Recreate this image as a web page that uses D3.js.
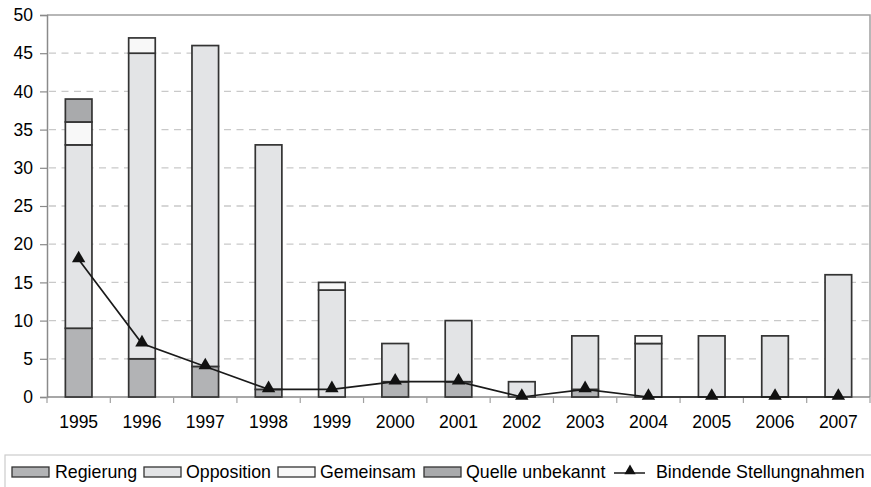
<!DOCTYPE html>
<html>
<head>
<meta charset="utf-8">
<script src="https://cdn.jsdelivr.net/npm/d3@7/dist/d3.min.js"></script>
<style>
  html, body { margin: 0; padding: 0; background: #fff; }
  svg { display: block; font-family: "Liberation Sans", Arial, sans-serif; }
</style>
</head>
<body>
<svg id="chart" width="871" height="487"></svg>
<script>
// Jahre (Kategorien)
const years = ["1995","1996","1997","1998","1999","2000","2001","2002","2003","2004","2005","2006","2007"];
// Gestapelte Reihen
const regierung       = [9, 5, 4, 1, 0, 2, 2, 0, 1, 0, 0, 0, 0];
const opposition      = [24, 40, 42, 32, 14, 5, 8, 2, 7, 7, 8, 8, 16];
const gemeinsam       = [3, 2, 0, 0, 1, 0, 0, 0, 0, 1, 0, 0, 0];
const quelleUnbekannt = [3, 0, 0, 0, 0, 0, 0, 0, 0, 0, 0, 0, 0];
// Linienreihe
const bindend         = [18, 7, 4, 1, 1, 2, 2, 0, 1, 0, 0, 0, 0];
const yTicks = [0, 5, 10, 15, 20, 25, 30, 35, 40, 45, 50];

const seriesNames = ["Regierung", "Opposition", "Gemeinsam", "Quelle unbekannt"];
const seriesData = [regierung, opposition, gemeinsam, quelleUnbekannt];
const colors = ["#b2b3b5", "#e3e4e6", "#f8f8f8", "#a9aaac"];

const svg = d3.select("#chart");
const m = { left: 47, right: 870, top: 15, bottom: 397 };

const x = d3.scaleBand().domain(years).range([m.left, m.right]).paddingInner(0.58).paddingOuter(0.29);
const y = d3.scaleLinear().domain([0, 50]).range([m.bottom, m.top]);

// Gitternetz
svg.append("g").selectAll("line").data(yTicks.filter(t => t > 0 && t < 50)).join("line")
  .attr("x1", m.left + 2).attr("x2", m.right)
  .attr("y1", d => y(d)).attr("y2", d => y(d))
  .attr("stroke", "#c9c9c9").attr("stroke-width", 1.3).attr("stroke-dasharray", "7,5.5");

// Rahmen oben und rechts
svg.append("path")
  .attr("d", `M${m.left},${m.top}H${m.right}V${m.bottom}`)
  .attr("fill", "none").attr("stroke", "#a0a0a0").attr("stroke-width", 1.5);

// Y-Achse
const yAxis = svg.append("g").attr("transform", `translate(${m.left},0)`)
  .call(d3.axisLeft(y).tickValues(yTicks).tickSize(7).tickPadding(7));
yAxis.select(".domain").attr("stroke", "#8a8a8a").attr("stroke-width", 1.5);
yAxis.selectAll(".tick line").attr("stroke", "#8a8a8a").attr("stroke-width", 1.2);
yAxis.selectAll("text").attr("font-size", 17.5).attr("fill", "#000")
  .attr("font-family", "Liberation Sans, Arial, sans-serif");

// X-Achse mit Teilstrichen an den Kategoriegrenzen
const step = x.step();
const xg = svg.append("g");
xg.append("line").attr("x1", m.left).attr("x2", m.right).attr("y1", m.bottom).attr("y2", m.bottom)
  .attr("stroke", "#8a8a8a").attr("stroke-width", 1.5);
xg.selectAll("line.tk").data(d3.range(years.length + 1)).join("line").attr("class", "tk")
  .attr("x1", i => m.left + i * step).attr("x2", i => m.left + i * step)
  .attr("y1", m.bottom).attr("y2", m.bottom + 6)
  .attr("stroke", "#a0a0a0").attr("stroke-width", 1.2);
xg.selectAll("text").data(years).join("text")
  .attr("x", d => x(d) + x.bandwidth() / 2).attr("y", m.bottom + 31)
  .attr("text-anchor", "middle").attr("font-size", 17.5).attr("fill", "#000").text(d => d);

// Gestapelte Balken
const table = years.map((yr, i) => {
  const row = { year: yr };
  seriesNames.forEach((n, k) => row[n] = seriesData[k][i]);
  return row;
});
const stacked = d3.stack().keys(seriesNames)(table);
svg.append("g").selectAll("g").data(stacked).join("g")
  .attr("fill", (d, i) => colors[i])
  .selectAll("rect").data(d => d.filter(s => s[1] - s[0] > 0)).join("rect")
  .attr("x", d => x(d.data.year)).attr("width", x.bandwidth())
  .attr("y", d => y(d[1])).attr("height", d => y(d[0]) - y(d[1]))
  .attr("stroke", "#333").attr("stroke-width", 1.7);

// Linie "Bindende Stellungnahmen"
const cx = i => x(years[i]) + x.bandwidth() / 2;
svg.append("path").datum(bindend)
  .attr("d", d3.line().x((d, i) => cx(i)).y(d => y(d)))
  .attr("fill", "none").attr("stroke", "#1a1a1a").attr("stroke-width", 1.7);
const tri = d3.symbol().type(d3.symbolTriangle).size(78);
svg.append("g").selectAll("path").data(bindend).join("path")
  .attr("transform", (d, i) => `translate(${cx(i)},${y(d) - 1})`)
  .attr("d", tri).attr("fill", "#111");

// Legende
const lg = svg.append("g");
lg.append("rect").attr("x", 5).attr("y", 455).attr("width", 880).attr("height", 60)
  .attr("fill", "#fff").attr("stroke", "#cccccc").attr("stroke-width", 1.2);
const legendItems = [
  { name: "Regierung", sx: 12, tx: 55, color: colors[0] },
  { name: "Opposition", sx: 144, tx: 186, color: colors[1] },
  { name: "Gemeinsam", sx: 278, tx: 320, color: colors[2] },
  { name: "Quelle unbekannt", sx: 424, tx: 466, color: colors[3] }
];
legendItems.forEach(it => {
  lg.append("rect").attr("x", it.sx).attr("y", 467).attr("width", 37).attr("height", 10)
    .attr("fill", it.color).attr("stroke", "#333").attr("stroke-width", 1.3);
  lg.append("text").attr("x", it.tx).attr("y", 478).attr("font-size", 17.8).attr("fill", "#000").text(it.name);
});
lg.append("line").attr("x1", 614).attr("x2", 645).attr("y1", 473).attr("y2", 473)
  .attr("stroke", "#1a1a1a").attr("stroke-width", 1.5);
lg.append("path").attr("transform", "translate(630,471)").attr("d", d3.symbol().type(d3.symbolTriangle).size(55)).attr("fill", "#111");
lg.append("text").attr("x", 656).attr("y", 478).attr("font-size", 17.8).attr("fill", "#000").text("Bindende Stellungnahmen");
</script>
</body>
</html>
